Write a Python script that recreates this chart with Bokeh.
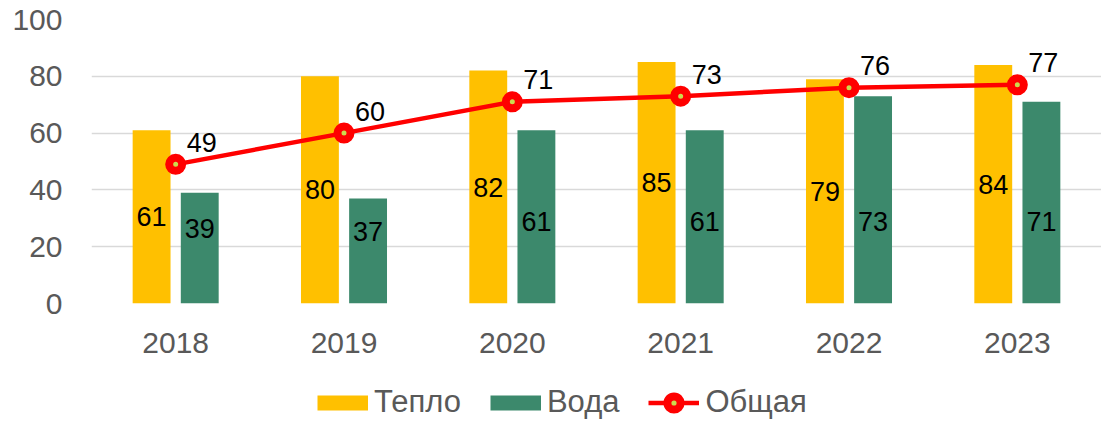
from bokeh.plotting import figure
from bokeh.models import ColumnDataSource, FactorRange, Range1d, Legend, LegendItem
from bokeh.layouts import column
from bokeh.transform import dodge
from bokeh.core.properties import value
from bokeh.embed import file_html
from bokeh.resources import INLINE

years = ["2018", "2019", "2020", "2021", "2022", "2023"]
teplo = [61, 80, 82, 85, 79, 84]
voda = [39, 37, 61, 61, 73, 71]
obshaya = [49, 60, 71, 73, 76, 77]
y_ticks = [0, 20, 40, 60, 80, 100]

FONT = "Liberation Sans"
GREY = "#595959"
C_TEPLO = "#FFC000"
C_VODA = "#3C896C"
C_LINE = "#FF0000"
C_DOT = "#CCDB4E"

src = ColumnDataSource(dict(
    year=years,
    teplo=teplo,
    voda=voda,
    obshaya=obshaya,
    teplo_lbl=[str(v) for v in teplo],
    voda_lbl=[str(v) for v in voda],
    obshaya_lbl=[str(v) for v in obshaya],
    teplo_mid=[v / 2 for v in teplo],
    voda_mid=[min(v / 2 + 7, 29) for v in voda],
))

p = figure(width=1101, height=360, x_range=FactorRange(*years, range_padding=0),
           y_range=Range1d(0, 100), output_backend="svg", toolbar_location=None,
           min_border_left=91, min_border_right=0, min_border_top=19, min_border_bottom=57)
p.outline_line_color = None
p.background_fill_color = "white"
p.border_fill_color = "white"

p.xgrid.grid_line_color = None
p.ygrid.grid_line_color = "#D9D9D9"
p.ygrid.grid_line_width = 1.5
p.yaxis.ticker = y_ticks

for ax in (p.xaxis[0], p.yaxis[0]):
    ax.axis_line_color = None
    ax.major_tick_line_color = None
    ax.minor_tick_line_color = None
    ax.major_tick_out = 0
    ax.major_tick_in = 0
    ax.major_label_text_font = FONT
    ax.major_label_text_font_size = "30px"
    ax.major_label_text_color = GREY
p.yaxis.major_label_standoff = 29
p.xaxis.major_label_standoff = 29

off = 0.143
bw = 0.225
p.vbar(x=dodge("year", -off, range=p.x_range), top="teplo", width=bw, source=src,
       fill_color=C_TEPLO, line_color=None)
p.vbar(x=dodge("year", off, range=p.x_range), top="voda", width=bw, source=src,
       fill_color=C_VODA, line_color=None)

p.text(x=dodge("year", -off, range=p.x_range), y="teplo_mid", text="teplo_lbl", source=src,
       text_font=value(FONT), text_font_size="27px", text_color="black",
       text_align="center", text_baseline="middle")
p.text(x=dodge("year", off, range=p.x_range), y="voda_mid", text="voda_lbl", source=src,
       text_font=value(FONT), text_font_size="27px", text_color="black",
       text_align="center", text_baseline="middle")

p.line(x="year", y="obshaya", source=src, line_color=C_LINE, line_width=4.5)
p.scatter(x="year", y="obshaya", source=src, size=13, fill_color=C_DOT,
          line_color=C_LINE, line_width=8)

p.text(x="year", y="obshaya", text="obshaya_lbl", source=src, x_offset=26, y_offset=-22,
       text_font=value(FONT), text_font_size="27px", text_color="black",
       text_align="center", text_baseline="middle")

# legend strip below the chart
lg = figure(width=1101, height=62, x_range=Range1d(0, 1101), y_range=Range1d(0, 62),
            output_backend="svg", toolbar_location=None,
            min_border_left=0, min_border_right=0, min_border_top=0, min_border_bottom=0)
lg.axis.visible = False
lg.grid.visible = False
lg.outline_line_color = None
lg.border_fill_color = "white"

hidden = ColumnDataSource(dict(x=[-100, -90], y=[-100, -100]))
sw_t = lg.line(x="x", y="y", source=hidden, line_color=C_TEPLO, line_width=15, line_cap="butt")
sw_v = lg.line(x="x", y="y", source=hidden, line_color=C_VODA, line_width=15, line_cap="butt")
sw_l = lg.line(x="x", y="y", source=hidden, line_color=C_LINE, line_width=4.5)
sw_m = lg.scatter(x="x", y="y", source=hidden, size=13, fill_color=C_DOT,
                  line_color=C_LINE, line_width=8)

leg = Legend(items=[LegendItem(label="Тепло", renderers=[sw_t]),
                    LegendItem(label="Вода", renderers=[sw_v]),
                    LegendItem(label="Общая", renderers=[sw_l, sw_m])],
             orientation="horizontal", location=(226, 2),
             glyph_width=51, glyph_height=33, label_height=33, label_standoff=6,
             spacing=29, padding=0, margin=0, border_line_color=None,
             background_fill_alpha=0,
             label_text_font=FONT, label_text_font_size="31px", label_text_color=GREY)
lg.add_layout(leg, "center")

open("out.html", "w").write(file_html(column(p, lg, spacing=0), INLINE))
